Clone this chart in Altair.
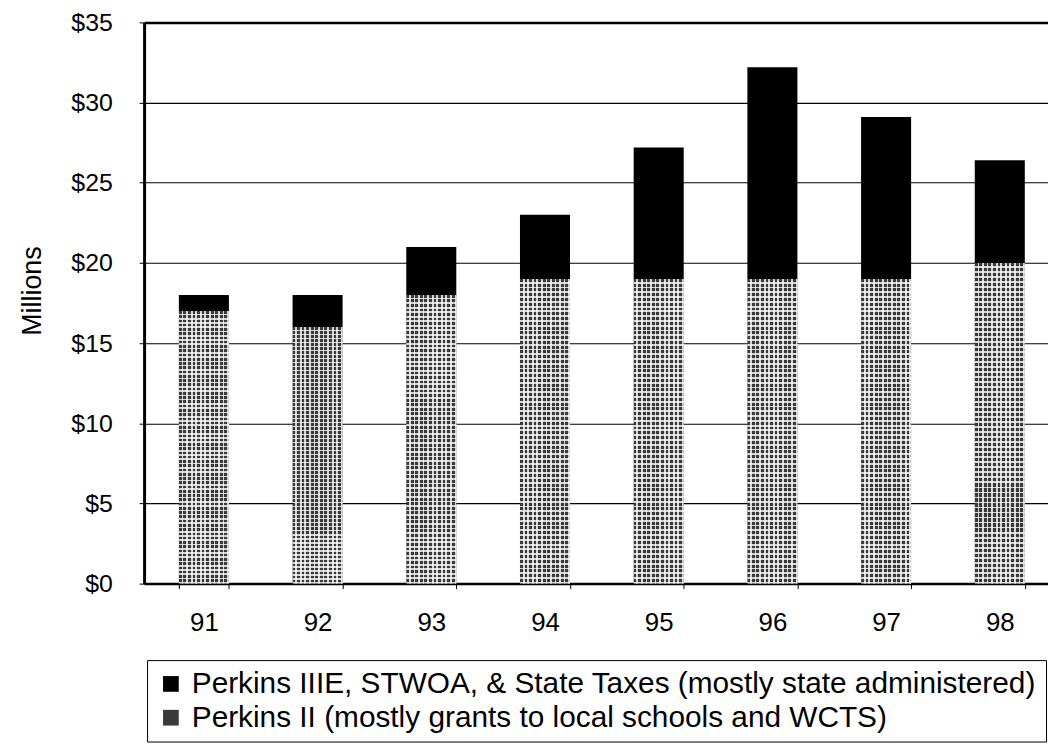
import altair as alt
import pandas as pd

years = ["91", "92", "93", "94", "95", "96", "97", "98"]
perkins_ii = [17, 16, 18, 19, 19, 19, 19, 20]
totals = [18, 18, 21, 23, 27.2, 32.2, 29.1, 26.4]
y_ticks = [0, 5, 10, 15, 20, 25, 30, 35]
top_label = "Perkins IIIE, STWOA, & State Taxes (mostly state administered)"
bottom_label = "Perkins II (mostly grants to local schools and WCTS)"

rows = []
for yr, b, t in zip(years, perkins_ii, totals):
    rows.append({"year": yr, "series": bottom_label, "value": b, "order": 0})
    rows.append({"year": yr, "series": top_label, "value": round(t - b, 2), "order": 1})
df = pd.DataFrame(rows)

FONT = "Liberation Sans"


def stripes(n, vertical, frac=0.62):
    clear = "rgba(255,255,255,0)"
    white = "rgba(255,255,255,0.78)"
    stops = []
    for i in range(n):
        a = i / n
        b = (i + frac) / n
        c = (i + 1) / n
        stops += [
            {"offset": a, "color": clear},
            {"offset": b, "color": clear},
            {"offset": b, "color": white},
            {"offset": c, "color": white},
        ]
    if vertical:
        return {"gradient": "linear", "x1": 0, "y1": 0, "x2": 1, "y2": 0, "stops": stops}
    return {"gradient": "linear", "x1": 0, "y1": 0, "x2": 0, "y2": 1, "stops": stops}


xscale = alt.Scale(paddingInner=0.56, paddingOuter=0.255, align=0.6)
xaxis = alt.Axis(
    title=None, labelAngle=0, tickBand="extent", labelFont=FONT, labelFontSize=26,
    labelColor="black", labelPadding=21, tickSize=5, tickColor="black",
    domainColor="black", domainWidth=2.5, grid=False,
)
yscale = alt.Scale(domain=[0, 35], nice=False)
yaxis = alt.Axis(
    title="Millions", values=y_ticks, format="$.0f", labelFont=FONT, labelFontSize=25,
    labelColor="black", labelPadding=27, tickSize=5, tickColor="black",
    domainColor="black", domainWidth=3, grid=True, gridColor="black",
    gridWidth={"condition": {"test": "datum.value == 35", "value": 2.5}, "value": 1.1},
    titleFont=FONT, titleFontSize=27, titleFontWeight="normal", titleColor="black",
    titleX=-112, titleY=270, titleAngle=-90, titleBaseline="middle", titleAlign="center",
)

main = alt.Chart(df).mark_bar().encode(
    x=alt.X("year:N", scale=xscale, axis=xaxis),
    y=alt.Y("sum(value):Q", scale=yscale, axis=yaxis),
    color=alt.Color(
        "series:N",
        scale=alt.Scale(domain=[top_label, bottom_label], range=["#000000", "#3a3a3a"]),
        legend=alt.Legend(
            title=None, orient="none", legendX=3, legendY=642, direction="vertical",
            symbolType="square", symbolSize=250, labelFont=FONT, labelFontSize=30,
            labelColor="black", labelLimit=2000, strokeColor="black", padding=9,
            rowPadding=4, labelOffset=6, fillColor="white",
        ),
    ),
    order=alt.Order("order:Q"),
)

base_bottom = alt.Chart(df).transform_filter(alt.datum.series == bottom_label)

vstripes = base_bottom.mark_bar(color=stripes(11, True)).encode(
    x=alt.X("year:N", scale=xscale, axis=xaxis),
    y=alt.Y("value:Q", scale=yscale, axis=yaxis, stack=None),
)
hstripes = base_bottom.mark_bar(color=stripes(64, False)).encode(
    x=alt.X("year:N", scale=xscale, axis=xaxis),
    y=alt.Y("value:Q", scale=yscale, axis=yaxis, stack=None),
)

chart = (
    alt.layer(main, vstripes, hstripes)
    .properties(
        width=910, height=565,
        autosize=alt.AutoSizeParams(type="none"),
        padding={"left": 137, "top": 12, "right": 0, "bottom": 162},
    )
    .configure_view(stroke=None)
    .configure(background="white")
)

chart.save("out.html", embed_options={"renderer": "svg", "actions": False})
